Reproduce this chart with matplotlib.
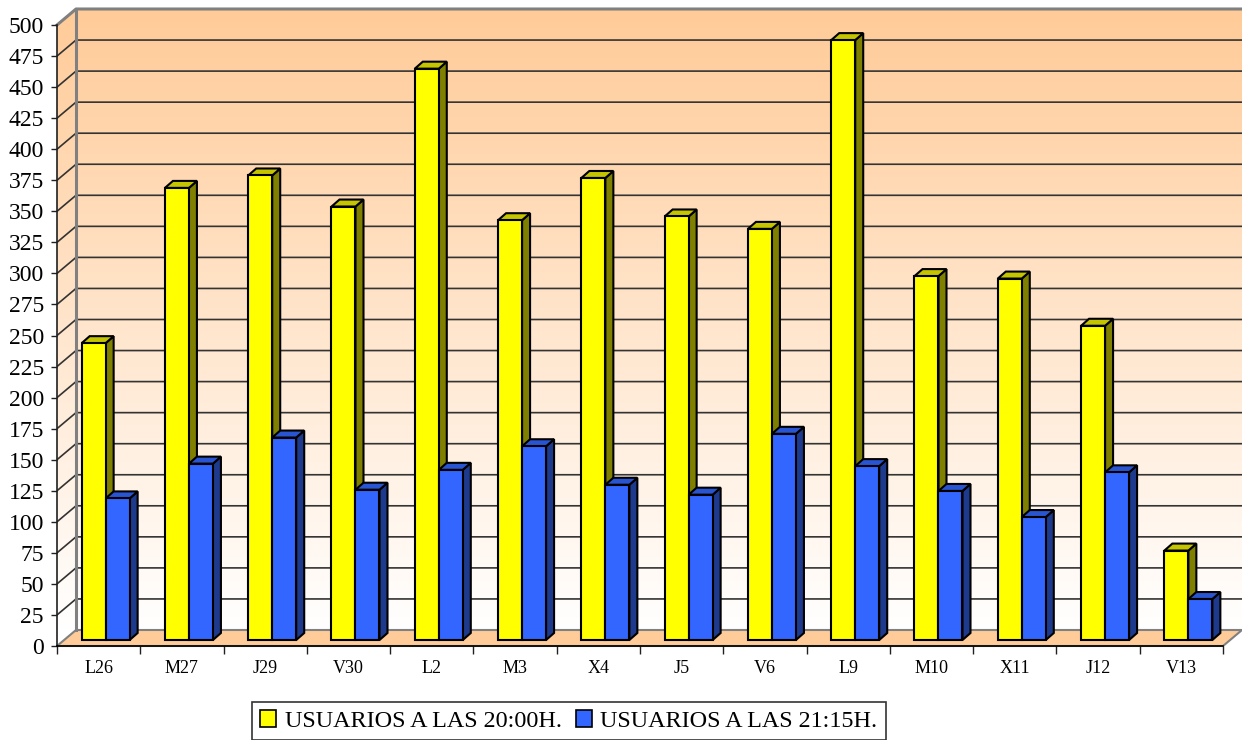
import matplotlib
matplotlib.use('Agg')
import matplotlib.pyplot as plt
import numpy as np
from matplotlib.patches import Polygon, Rectangle

# ---------------- data ----------------
categories = ['L26', 'M27', 'J29', 'V30', 'L2', 'M3', 'X4', 'J5', 'V6',
              'L9', 'M10', 'X11', 'J12', 'V13']
users_2000 = [239, 364, 374, 349, 460, 338, 372, 341, 331, 483, 293, 291, 253, 72]
users_2115 = [114, 142, 163, 121, 137, 156, 125, 117, 166, 140, 120, 99, 135, 33]
series_labels = ['USUARIOS A LAS 20:00H.', 'USUARIOS A LAS 21:15H.']
y_ticks = list(range(0, 501, 25))

# ---------------- style ----------------
plt.rcParams['font.family'] = ['Liberation Serif', 'DejaVu Serif']
front_cols = ['#FFFF00', '#3366FF']
side_cols = ['#808000', '#1E3A8C']
top_cols = ['#C4C400', '#2A55D2']

W, H = 1242, 740
fig = plt.figure(figsize=(W / 100, H / 100), dpi=100)
fig.patch.set_facecolor('white')

x0_px, x1_px = 57, 1223
y0_px, y1_px = 646, 25
ax = fig.add_axes([x0_px / W, 1 - y0_px / H, (x1_px - x0_px) / W, (y0_px - y1_px) / H])
n = len(categories)
ymax = y_ticks[-1]

sx = n / (x1_px - x0_px)      # data units per pixel (x)
sy = ymax / (y0_px - y1_px)   # data units per pixel (y)
WDX, WDY = 19 * sx, 16 * sy   # wall depth
BFX, BFY = 7 * sx, 6 * sy     # bar front plane offset
BDX, BDY = 8 * sx, 7 * sy     # bar depth
bw = 24 * sx                  # bar width

# ---- walls with gradient ----
wall_poly = Polygon([(0, 0), (WDX, WDY), (n + WDX, WDY), (n + WDX, ymax + WDY),
                     (WDX, ymax + WDY), (0, ymax)], closed=True,
                    transform=ax.transData, facecolor='none', edgecolor='none')
ax.add_patch(wall_poly)
wall_poly.set_clip_on(False)
top_c = np.array([255, 203, 152]) / 255.0
bot_c = np.array([255, 255, 255]) / 255.0
t = np.linspace(0, 1, 256)[:, None]
grad = (top_c[None, :] * (1 - t) + bot_c[None, :] * t)
grad = np.repeat(grad[:, None, :], 2, axis=1)
im = ax.imshow(grad, extent=[0, n + WDX, WDY, ymax + WDY], aspect='auto',
               origin='upper', interpolation='bilinear', zorder=0)
im.set_clip_path(wall_poly)
im.set_clip_box(fig.bbox)

# ---- floor ----
floor = Polygon([(0, 0), (n, 0), (n + WDX, WDY), (WDX, WDY)], closed=True,
                facecolor='#FFCC99', edgecolor='#808080', lw=1.5, zorder=1, clip_on=False)
ax.add_patch(floor)

# ---- gridlines ----
for v in y_ticks[1:-1]:
    ax.plot([0, WDX, n + WDX], [v, v + WDY, v + WDY], color='#333333', lw=1.2,
            zorder=1, clip_on=False, solid_capstyle='butt')
ax.plot([0, WDX, n + WDX], [ymax, ymax + WDY, ymax + WDY], color='#808080', lw=2.2,
        zorder=1, clip_on=False)
ax.plot([WDX, WDX], [WDY, ymax + WDY], color='#808080', lw=2.2, zorder=1, clip_on=False)

# ---- 3D bars ----
series = [users_2000, users_2115]
z = 2
for i in range(n):
    for j, vals in enumerate(series):
        v = vals[i]
        xl = i + 0.5 - bw + j * bw + BFX
        yb = BFY
        front = Rectangle((xl, yb), bw, v, facecolor=front_cols[j], edgecolor='black',
                          lw=1.5, zorder=z, clip_on=False, joinstyle='miter')
        side = Polygon([(xl + bw, yb), (xl + bw + BDX, yb + BDY),
                        (xl + bw + BDX, yb + v + BDY), (xl + bw, yb + v)], closed=True,
                       facecolor=side_cols[j], edgecolor='black', lw=1.5, zorder=z,
                       clip_on=False, joinstyle='miter')
        top = Polygon([(xl, yb + v), (xl + bw, yb + v), (xl + bw + BDX, yb + v + BDY),
                       (xl + BDX, yb + v + BDY)], closed=True,
                      facecolor=top_cols[j], edgecolor='black', lw=1.5, zorder=z,
                      clip_on=False, joinstyle='miter')
        ax.add_patch(side)
        ax.add_patch(top)
        ax.add_patch(front)
        z += 0.01

# ---- axes ----
ax.set_xlim(0, n)
ax.set_ylim(0, ymax)
ax.patch.set_visible(False)
for s in ['top', 'right']:
    ax.spines[s].set_visible(False)
ax.spines['left'].set_color('#202020')
ax.spines['bottom'].set_color('black')
ax.spines['left'].set_linewidth(1.2)
ax.spines['bottom'].set_linewidth(1.2)
ax.spines['left'].set_zorder(5)
ax.spines['bottom'].set_zorder(5)

ax.set_yticks(y_ticks)
ax.set_yticklabels([str(v) for v in y_ticks], fontsize=17)
ax.tick_params(axis='y', direction='out', length=4.5, width=1, pad=5, color='#202020')

ax.set_xticks(np.arange(0, n + 1))
ax.set_xticklabels([])
ax.tick_params(axis='x', which='major', direction='out', length=6, width=1, color='#202020')
ax.set_xticks(np.arange(n) + 0.5, minor=True)
ax.set_xticklabels(categories, minor=True, fontsize=13)
ax.tick_params(axis='x', which='minor', length=0, pad=10)

# ---- legend ----
handles = [Rectangle((0, 0), 1, 1, facecolor=front_cols[k], edgecolor='black', lw=1.2)
           for k in range(2)]
leg = fig.legend(handles, series_labels, loc='upper left',
                 bbox_to_anchor=(252 / W, 1 - 702 / H), bbox_transform=fig.transFigure,
                 ncol=2, frameon=True, fancybox=False, edgecolor='black',
                 fontsize=17.4, handlelength=0.65, handleheight=0.65, handletextpad=0.35,
                 columnspacing=0.6, borderpad=0.35, borderaxespad=0)
leg.get_frame().set_linewidth(1.2)

fig.savefig('out.png', dpi=100, facecolor='white')
